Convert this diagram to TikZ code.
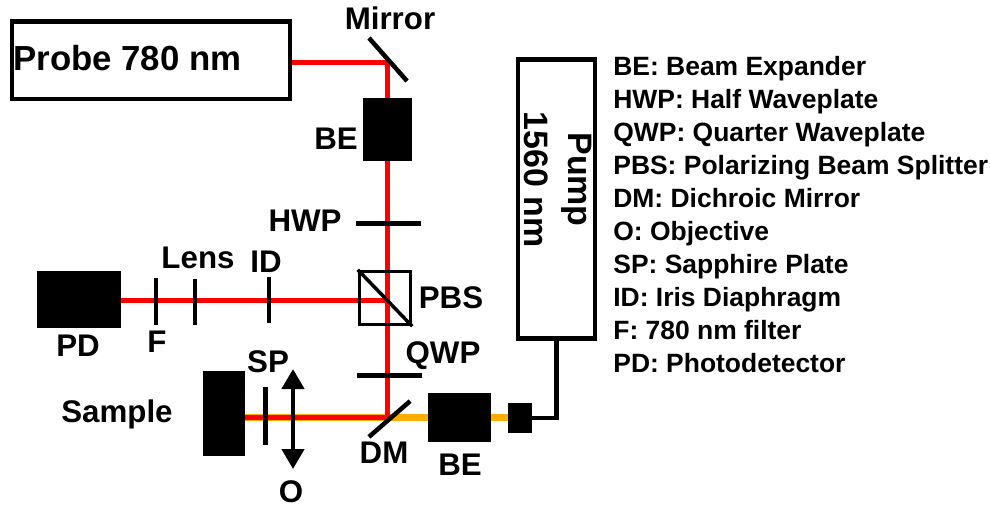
\documentclass[tikz,border=0pt]{standalone}
\usepackage{fontspec}
\setmainfont{Liberation Sans}
\usetikzlibrary{arrows.meta, backgrounds}
\definecolor{beamred}{RGB}{255, 0, 0}
\definecolor{beamorange}{RGB}{255, 174, 0}

\begin{document}
\begin{tikzpicture}[
	x=0.2mm, y=-0.2mm,
	laserbox/.style={rectangle, draw=black, fill=white, line width=0.95mm, inner sep=0},
	blockbox/.style={rectangle, fill=black, inner sep=0},
	platebox/.style={rectangle, fill=black, inner sep=0},
	cubebox/.style={rectangle, draw=black, line width=0.7mm, inner sep=0, minimum width=10.2mm, minimum height=10.6mm},
	labelbox/.style={font=\fontsize{17.8}{20}\selectfont\bfseries, inner sep=0},
	legendbox/.style={anchor=base west, font=\fontsize{15.05}{18}\selectfont\bfseries, inner sep=0},
	redbeam/.style={draw=beamred, line width=1mm},
	orangebeam/.style={draw=beamorange, line width=1.5mm},
	cable/.style={draw=black, line width=0.9mm}
	]
	\useasboundingbox (0,0) rectangle (990,508);

	% Probe arm
	\node[laserbox, minimum width=55.6mm, minimum height=15.5mm] (probe) at (151,60.2) {};
	\node[labelbox, anchor=base west, font=\fontsize{19.8}{22}\selectfont\bfseries] (lbl_probe) at (13,70) {Probe 780 nm};
	\node[platebox, minimum width=11.5mm, minimum height=0.9mm, rotate=-48.5] (mirror) at (388,59.5) {};
	\coordinate (mirror_pt) at (387,62);
	\node[labelbox] (lbl_mirror) at (390,18) {Mirror};
	\node[blockbox, minimum width=9.8mm, minimum height=12.6mm] (be_top) at (387.5,129.5) {};
	\node[labelbox] (lbl_be_top) at (336,139) {BE};
	\node[platebox, minimum width=13mm, minimum height=1mm] (hwp) at (388.5,223) {};
	\node[labelbox] (lbl_hwp) at (305,221) {HWP};

	% Detection arm
	\node[cubebox] (pbs) at (385,298) {};
	\draw[line width=0.7mm] (pbs.north west) -- (pbs.south east);
	\coordinate (pbs_pt) at (387,300);
	\node[labelbox] (lbl_pbs) at (451,298) {PBS};
	\node[blockbox, minimum width=16.8mm, minimum height=11.4mm] (pd) at (79,299.5) {};
	\node[labelbox] (lbl_pd) at (78,346) {PD};
	\node[platebox, minimum width=0.9mm, minimum height=9.4mm] (filt) at (156,301.5) {};
	\node[labelbox] (lbl_filt) at (157,342) {F};
	\node[platebox, minimum width=0.9mm, minimum height=9.2mm] (lens) at (195,302) {};
	\node[labelbox] (lbl_lens) at (198,258) {Lens};
	\node[platebox, minimum width=0.9mm, minimum height=9.2mm] (iris) at (269,300) {};
	\node[labelbox] (lbl_iris) at (266,262) {ID};

	% Sample arm
	\node[platebox, minimum width=13mm, minimum height=1mm] (qwp) at (389.5,375) {};
	\node[labelbox] (lbl_qwp) at (443,356) {QWP};
	\node[platebox, minimum width=10.9mm, minimum height=0.9mm, rotate=41] (dm) at (389.5,419) {};
	\coordinate (dm_pt) at (387,417.5);
	\node[labelbox] (lbl_dm) at (384,453) {DM};
	\node[blockbox, minimum width=8.4mm, minimum height=17mm] (sample) at (224,413.5) {};
	\node[labelbox] (lbl_sample) at (117,414) {Sample};
	\node[platebox, minimum width=1mm, minimum height=11.6mm] (sp) at (265.5,416) {};
	\node[labelbox] (lbl_sp) at (268,362) {SP};
	\coordinate (obj_top) at (293,369);
	\coordinate (obj_bot) at (293,469);
	\draw[line width=0.9mm, {Triangle[width=4.4mm, length=4mm]}-{Triangle[width=4.4mm, length=4mm]}] (obj_top) -- (obj_bot);
	\node[labelbox] (lbl_obj) at (291,492) {O};

	% Pump arm
	\node[blockbox, minimum width=12.6mm, minimum height=9.8mm] (be_pump) at (459.5,417.5) {};
	\node[labelbox] (lbl_be_pump) at (460,465) {BE};
	\node[blockbox, minimum width=4.8mm, minimum height=6mm] (coupler) at (520,418) {};
	\node[laserbox, minimum width=15.4mm, minimum height=55.7mm] (pump) at (556.5,199) {};
	\node[labelbox, rotate=-90, align=center, font=\fontsize{19.3}{25}\selectfont\bfseries] (lbl_pump) at (558,179.5) {Pump\\1560 nm};
	\draw[cable] (coupler.east) -| (pump.south);

	% Legend
	\node[legendbox] (leg1) at (613,75) {BE: Beam Expander};
	\node[legendbox] (leg2) at (613,108) {HWP: Half Waveplate};
	\node[legendbox] (leg3) at (613,141) {QWP: Quarter Waveplate};
	\node[legendbox] (leg4) at (613,174) {PBS: Polarizing Beam Splitter};
	\node[legendbox] (leg5) at (613,207) {DM: Dichroic Mirror};
	\node[legendbox] (leg6) at (613,240) {O: Objective};
	\node[legendbox] (leg7) at (613,273) {SP: Sapphire Plate};
	\node[legendbox] (leg8) at (613,306) {ID: Iris Diaphragm};
	\node[legendbox] (leg9) at (613,339) {F: 780 nm filter};
	\node[legendbox] (leg10) at (613,372) {PD: Photodetector};

	% Beams
	\begin{pgfonlayer}{background}
		\draw[orangebeam] (sample.east |- dm_pt) -- (coupler.west |- dm_pt);
		\draw[redbeam] (probe.east |- mirror_pt) -- (mirror_pt) -- (dm_pt);
		\draw[redbeam] (pd.east |- pbs_pt) -- (pbs_pt);
		\draw[redbeam, line width=1.1mm] (sample.east |- dm_pt) -- (dm_pt);
	\end{pgfonlayer}
\end{tikzpicture}
\end{document}
